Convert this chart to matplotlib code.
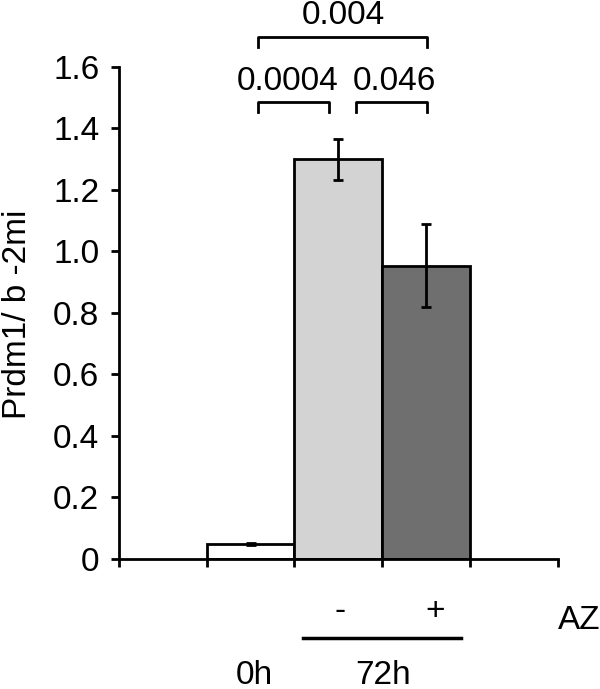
import matplotlib.pyplot as plt

plt.rcParams['font.family'] = ['Liberation Sans', 'DejaVu Sans']

# data
positions = [1, 2, 3]
values = [0.05, 1.30, 0.953]
errors = [0.003, 0.066, 0.135]
colors = ['white', '#d3d3d3', '#6f6f6f']
yticks = [0, 0.2, 0.4, 0.6, 0.8, 1.0, 1.2, 1.4, 1.6]
ytick_labels = ['0', '0.2', '0.4', '0.6', '0.8', '1.0', '1.2', '1.4', '1.6']
xticks = [-0.5, 0.5, 1.5, 2.5, 3.5, 4.5]
# significance brackets: (x1, x2, y, p-value, text x, text baseline)
brackets = [(1.08, 1.89, 1.486, '0.0004', 1.426, 1.525),
            (2.2, 3.01, 1.486, '0.046', 2.636, 1.525),
            (1.08, 3.01, 1.698, '0.004', 2.057, 1.740)]

FS = 24
fig = plt.figure(figsize=(6, 6.89), dpi=100)
ax = fig.add_axes([0.198, 0.1887, 0.732, 0.7141])

ax.bar(positions, values, width=1.0, color=colors, edgecolor='black', linewidth=2.0, zorder=2)
ax.errorbar(positions, values, yerr=errors, fmt='none', ecolor='black',
            elinewidth=2.0, capsize=3.5, capthick=2.0, zorder=3)

ax.set_xlim(-0.5, 4.5)
ax.set_ylim(0, 1.6)
ax.set_yticks(yticks)
ax.set_yticklabels(ytick_labels)
ax.set_xticks(xticks)
ax.set_xticklabels([])
ax.spines['top'].set_visible(False)
ax.spines['right'].set_visible(False)
ax.spines['left'].set_linewidth(2.0)
ax.spines['bottom'].set_linewidth(2.0)
ax.tick_params(axis='y', direction='out', length=6, width=2.0, labelsize=FS, pad=8)
ax.tick_params(axis='x', direction='out', length=6, width=2.0)
ax.set_ylabel('Prdm1/ b -2mi', fontsize=FS, va='center')
ax.yaxis.set_label_coords(-0.23, 0.498)

for x1, x2, y, p, tx, ty in brackets:
    ax.plot([x1, x1, x2, x2], [y - 0.033, y, y, y - 0.033], color='black',
            linewidth=2.0, clip_on=False)
    ax.text(tx, ty, p, ha='center', va='baseline', fontsize=FS)

# labels below the axis
ax.text(2.02, -0.17, '-', ha='center', va='center', fontsize=FS)
ax.text(3.1, -0.17, '+', ha='center', va='center', fontsize=FS)
ax.text(4.5, -0.228, 'AZ', ha='left', va='baseline', fontsize=FS)
ax.plot([1.6, 3.4], [-0.257, -0.257], color='black', linewidth=2.5, clip_on=False)
ax.text(1.045, -0.405, '0h', ha='center', va='baseline', fontsize=FS)
ax.text(2.51, -0.405, '72h', ha='center', va='baseline', fontsize=FS)

fig.savefig('out.png', dpi=100)
